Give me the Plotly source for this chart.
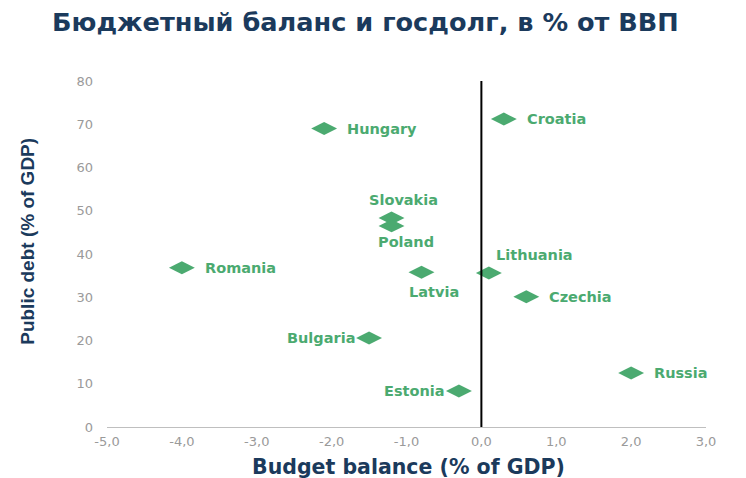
import plotly.graph_objects as go

countries = ["Hungary", "Croatia", "Slovakia", "Poland", "Romania", "Latvia",
             "Lithuania", "Czechia", "Bulgaria", "Russia", "Estonia"]
budget_balance = [-2.1, 0.3, -1.2, -1.2, -4.0, -0.8, 0.1, 0.6, -1.5, 2.0, -0.3]
public_debt = [69.0, 71.2, 48.3, 46.5, 36.8, 35.8, 35.6, 30.1, 20.6, 12.5, 8.3]
label_side = ["right", "right", "top", "bottom", "right", "bottom2",
              "topright", "right", "left", "right", "left"]

x_ticks = [-5, -4, -3, -2, -1, 0, 1, 2, 3]
x_tick_labels = ["-5,0", "-4,0", "-3,0", "-2,0", "-1,0", "0,0", "1,0", "2,0", "3,0"]
y_ticks = [0, 10, 20, 30, 40, 50, 60, 70, 80]

GREEN = "#4BAA70"
NAVY = "#1B3A5C"
GREY = "#9A9A9A"
FONT = "DejaVu Sans, sans-serif"
FONT2 = "Liberation Sans, Arial, sans-serif"

fig = go.Figure()
fig.add_trace(go.Scatter(
    x=budget_balance, y=public_debt, mode="markers",
    marker=dict(symbol="diamond-wide", size=18.5, color=GREEN),
    hoverinfo="text", text=countries, showlegend=False,
))

# vertical line at x = 0
fig.add_shape(type="line", xref="x", yref="paper", x0=0, x1=0, y0=0, y1=1,
              line=dict(color="black", width=2))

offsets = {
    "right": dict(xanchor="left", yanchor="middle", xshift=21, yshift=0),
    "left": dict(xanchor="right", yanchor="middle", xshift=-12, yshift=0),
    "top": dict(xanchor="center", yanchor="bottom", xshift=12, yshift=8),
    "bottom": dict(xanchor="center", yanchor="top", xshift=14, yshift=-6),
    "bottom2": dict(xanchor="center", yanchor="top", xshift=13, yshift=-10),
    "topright": dict(xanchor="left", yanchor="bottom", xshift=5, yshift=8),
}
for c, xv, yv, side in zip(countries, budget_balance, public_debt, label_side):
    o = offsets[side]
    fig.add_annotation(x=xv, y=yv, text=c, showarrow=False,
                       font=dict(family=FONT, size=14.5, color=GREEN, weight="bold"),
                       **o)

# axis titles
fig.add_annotation(xref="paper", yref="paper", x=0.504, y=-0.116,
                   xanchor="center", yanchor="middle", showarrow=False,
                   text="Budget balance (% of GDP)",
                   font=dict(family=FONT, size=20.5, color=NAVY, weight="bold"))
fig.add_annotation(xref="paper", yref="paper", x=-0.132, y=0.538,
                   xanchor="center", yanchor="middle", showarrow=False, textangle=-90,
                   text="Public debt (% of GDP)",
                   font=dict(family=FONT2, size=19, color=NAVY, weight="bold"))

fig.update_layout(
    width=746, height=478,
    margin=dict(l=99, r=48, t=73, b=59),
    paper_bgcolor="white", plot_bgcolor="white",
    title=dict(text="Бюджетный баланс и госдолг, в % от ВВП",
               x=0.059, xanchor="left", xref="container",
               y=1 - 14 / 478, yanchor="middle", yref="container",
               font=dict(family=FONT, size=25.6, color=NAVY, weight="bold")),
    xaxis=dict(range=[-5, 3], tickvals=x_ticks, ticktext=x_tick_labels,
               showgrid=False, zeroline=False, showline=False, ticklabelstandoff=5,
               tickfont=dict(family=FONT, size=13, color=GREY)),
    yaxis=dict(range=[0, 80], tickvals=y_ticks,
               showgrid=False, zeroline=True, zerolinecolor="#BFBFBF", zerolinewidth=1,
               showline=False, ticks="", ticklabelstandoff=13,
               tickfont=dict(family=FONT, size=13, color=GREY)),
)

fig.write_html("out.html")
